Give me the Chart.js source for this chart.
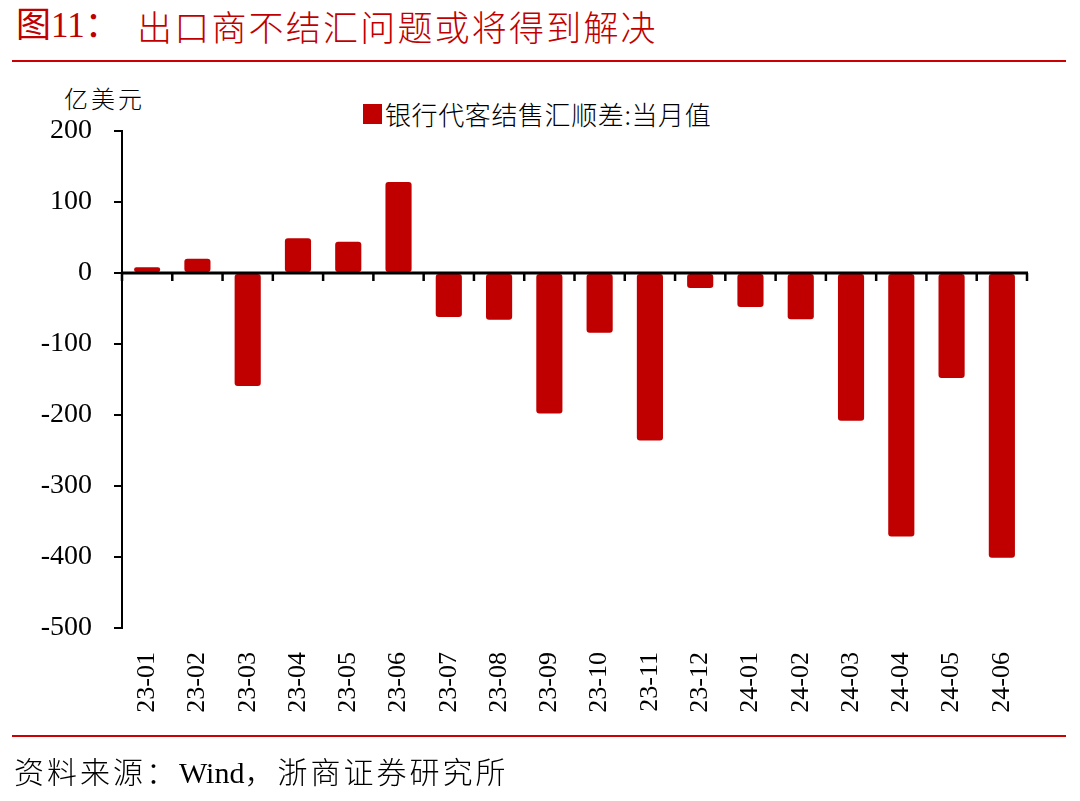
<!DOCTYPE html>
<html><head><meta charset="utf-8">
<script src="https://cdn.jsdelivr.net/npm/chart.js@4/dist/chart.umd.min.js"></script>
<style>
html,body{margin:0;padding:0;background:#fff;width:1080px;height:801px;overflow:hidden;}
#wrap{position:relative;width:1080px;height:801px;}
canvas{position:absolute;left:0;top:0;}
.t{position:absolute;white-space:nowrap;line-height:1;font-family:"Liberation Serif","Noto Sans CJK SC",serif;}
.cjk{font-family:"Noto Sans CJK SC";font-weight:300;}
.line{position:absolute;left:12px;width:1054px;height:2px;background:#cc0000;}
</style></head>
<body><div id="wrap">
<div class="t" style="left:16px;top:8px;font-size:35px;color:#c00000;">图11：</div>
<div class="t cjk" style="left:137px;top:8px;font-size:35px;color:#c00000;letter-spacing:2.2px;">出口商不结汇问题或将得到解决</div>
<div class="line" style="top:60px;"></div>
<div class="t cjk" style="left:64px;top:86px;font-size:24px;color:#000;letter-spacing:3px;">亿美元</div>
<div id="legend" style="position:absolute;left:363px;top:104px;width:19px;height:20px;background:#c00000;"></div>
<div class="t cjk" id="legendText" style="left:385px;top:101px;font-size:26px;color:#000;letter-spacing:0.6px;"></div>
<canvas id="c" width="1080" height="801"></canvas>
<div class="line" style="top:735px;"></div>
<div class="t" style="left:14px;top:755px;font-size:30px;color:#000;"><span class="cjk" style="letter-spacing:3px;">资料来源：</span>Wind<span class="cjk" style="letter-spacing:3px;">，浙商证券研究所</span></div>
</div>
<script>
const categories = ["23-01","23-02","23-03","23-04","23-05","23-06","23-07","23-08","23-09","23-10","23-11","23-12","24-01","24-02","24-03","24-04","24-05","24-06"];
const surplus = [8, 20, -159, 49, 44, 128, -62, -66, -198, -84, -236, -21, -48, -65, -208, -371, -148, -401];
const seriesName = "银行代客结售汇顺差:当月值";
const yMin = -500, yMax = 200, yStep = 100;

document.getElementById('legendText').textContent = seriesName;

const zeroAxis = {
  id: 'zeroAxis',
  afterDatasetsDraw(chart) {
    const {ctx, chartArea, scales:{x, y}} = chart;
    const y0 = y.getPixelForValue(0);
    ctx.save();
    ctx.strokeStyle = '#000';
    ctx.lineWidth = 3;
    ctx.beginPath();
    ctx.moveTo(chartArea.left, y0);
    ctx.lineTo(chartArea.right + 1, y0);
    ctx.stroke();
    ctx.lineWidth = 2.5;
    const n = categories.length;
    const bounds = [chartArea.left];
    for (let i = 1; i < n; i++) bounds.push((x.getPixelForValue(i-1) + x.getPixelForValue(i)) / 2);
    bounds.push(chartArea.right);
    ctx.beginPath();
    bounds.forEach(b => { ctx.moveTo(b, y0); ctx.lineTo(b, y0 + 8); });
    ctx.stroke();
    ctx.restore();
  }
};

new Chart(document.getElementById('c'), {
  type: 'bar',
  data: {
    labels: categories,
    datasets: [{
      label: seriesName,
      data: surplus,
      backgroundColor: '#c00000',
      borderWidth: 0,
      borderRadius: 3,
      borderSkipped: false,
      barPercentage: 0.52,
      categoryPercentage: 1.0
    }]
  },
  options: {
    responsive: false,
    animation: false,
    layout: { padding: { top: 131, right: 53, left: 0, bottom: 0 } },
    plugins: {
      legend: { display: false },
      tooltip: { enabled: false }
    },
    scales: {
      x: {
        offset: true,
        grid: { display: false },
        border: { display: false },
        ticks: {
          color: '#000',
          font: { family: "'Liberation Serif'", size: 26 },
          minRotation: 90, maxRotation: 90,
          padding: 16,
          autoSkip: false
        },
        afterFit(s) { s.height = 173; }
      },
      y: {
        min: yMin, max: yMax,
        ticks: {
          stepSize: yStep,
          color: '#000',
          font: { family: "'Liberation Serif'", size: 28 },
          padding: 22
        },
        grid: { display: true, drawOnChartArea: false, drawTicks: true, tickLength: 8, color: '#000', lineWidth: 2 },
        border: { display: true, color: '#000', width: 2 },
        afterFit(s) { s.width = 122; }
      }
    }
  },
  plugins: [zeroAxis]
});
</script>
</body></html>
